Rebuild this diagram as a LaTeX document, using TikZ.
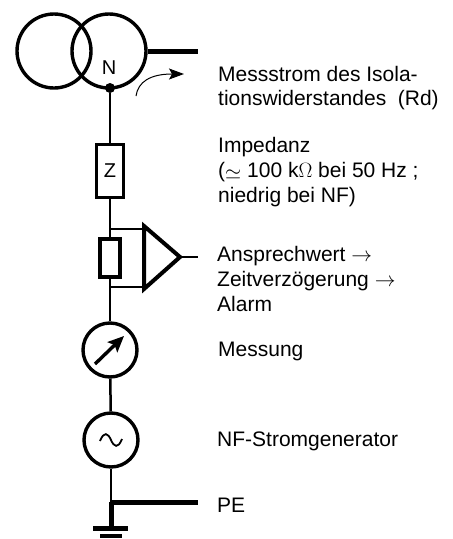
\documentclass[tikz,border=0pt]{standalone}
\usepackage{fontspec}
\setmainfont{Liberation Sans}
\usepackage{amsmath}
\usetikzlibrary{arrows.meta, positioning}
\tikzstyle{bauteil} = [draw, line width=3.4pt, fill=white, rectangle, inner sep=0pt]
\tikzstyle{kreis} = [draw, line width=3.4pt, circle, inner sep=0pt]
\tikzstyle{leitung} = [line width=2.5pt]
\tikzstyle{schiene} = [line width=5pt]
\tikzstyle{beschrift} = [anchor=west, align=left, inner sep=0pt, font=\fontsize{21}{24.8}\selectfont]
\begin{document}
\begin{tikzpicture}[x=1pt, y=-1pt]
	\useasboundingbox (0,0) rectangle (453,539);
	\node [kreis, minimum size=74pt] (trafoL) at (54,51) {};
	\node [kreis, minimum size=74pt] (trafoR) at (109,51) {};
	\node [font=\fontsize{20}{22}\selectfont, inner sep=0pt] (sternpunkt) at (109,68) {N};
	\node [circle, fill, minimum size=10pt, inner sep=0pt] (punkt) at (110,88) {};
	\node [bauteil, minimum width=27pt, minimum height=53pt, font=\fontsize{20}{22}\selectfont] (impedanz) at (110,171) {Z};
	\node [bauteil, minimum width=20pt, minimum height=38pt] (wandler) at (110,258) {};
	\node [kreis, minimum size=54pt] (messung) at (110,350) {};
	\node [kreis, minimum size=54pt] (generator) at (111,440) {};
	\coordinate (verstO) at (144,226);
	\coordinate (verstU) at (144,289);
	\coordinate (verstS) at (180,257);
	\coordinate (abzweigO) at (110,229);
	\coordinate (abzweigU) at (110,287);
	\coordinate (erde) at (111,502);
	\coordinate (erdeA) at (111,528);
	\coordinate (schieneN) at (198,51);
	\coordinate (ausgang) at (198,257);
	\coordinate (schienePE) at (198,502);
	\coordinate (pfeilA) at (136,96);
	\coordinate (pfeilE) at (184,74);
	\draw [line width=4pt, line join=miter] (verstO) -- (verstU) -- (verstS) -- cycle;
	\draw [leitung] (punkt) -- (impedanz);
	\draw [leitung] (impedanz) -- (abzweigO) -- (wandler);
	\draw [leitung] (abzweigO) -- (verstO |- abzweigO);
	\draw [leitung] (wandler) -- (abzweigU) -- (messung);
	\draw [leitung] (abzweigU) -- (verstU |- abzweigU);
	\draw [leitung] (verstS) -- (ausgang);
	\draw [leitung] (messung) -- (generator);
	\draw [leitung] (generator) -- (erde);
	\draw [schiene] (trafoR.east) -- (schieneN);
	\draw [schiene] (erde) -- (schienePE);
	\draw [schiene] (erde) -- (erdeA);
	\draw [schiene] (93,528) -- (128,528);
	\draw [schiene, line width=4pt] (100,536) -- (122,536);
	\draw [line width=1pt, -{Stealth[length=15pt, width=11pt, inset=3pt]}] (pfeilA) .. controls (138,82) and (150,74) .. (pfeilE);
	\draw [line width=3.4pt, -{Stealth[length=16pt, width=14pt, inset=3pt]}] (95,364) -- (124,336);
	\draw [line width=1.8pt] (100,441) .. controls (104,431) and (108,433) .. (111,440) .. controls (114,447) and (118,449) .. (122,439);
	\node [beschrift] (messstrom) at (218,88) {Messstrom des Isola-\\tionswiderstandes\ \ (Rd)};
	\node [beschrift] (impedanzText) at (218,172) {Impedanz\\(\raisebox{-2pt}{$\simeq$} 100 k$\Omega$ bei 50 Hz ;\\niedrig bei NF)};
	\node [beschrift] (ansprech) at (217,279) {Ansprechwert $\rightarrow$\\Zeitverzögerung $\rightarrow$\\Alarm};
	\node [beschrift] (messungText) at (218,351) {Messung};
	\node [beschrift] (generatorText) at (217,441) {NF-Stromgenerator};
	\node [beschrift] (pe) at (217,505) {PE};
\end{tikzpicture}
\end{document}
